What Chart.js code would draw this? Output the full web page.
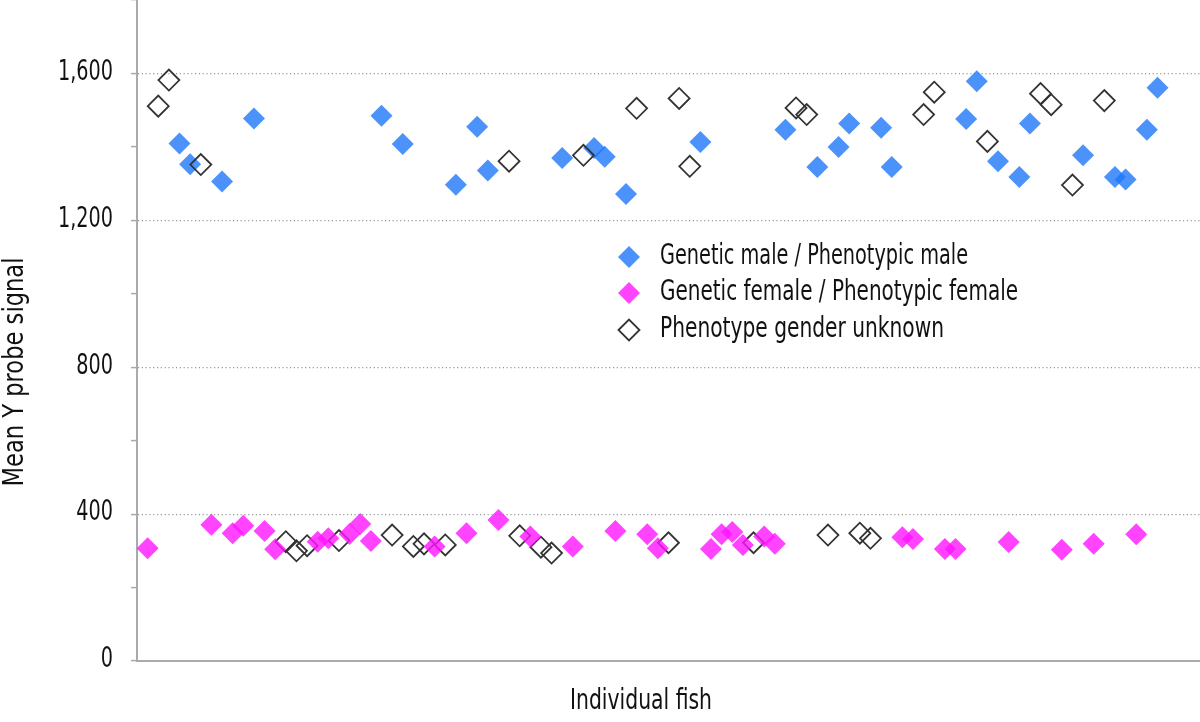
<!DOCTYPE html>
<html lang="en">
<head>
    <meta charset="UTF-8">
    <title>Mean Y probe signal</title>
    <script src="https://cdn.jsdelivr.net/npm/chart.js"></script>
    <style>
        html, body { margin: 0; padding: 0; background: #fff; }
    </style>
</head>
<body>
    <canvas id="myChart" width="1200" height="722"></canvas>
    <script>
        // fish number (x) and mean Y probe signal (y) for each group
        const maleFish = [4, 5, 8, 11, 23, 25, 30, 32, 33, 40, 43, 44, 46, 53, 61, 64, 66, 67, 70, 71, 78, 79, 81, 83, 84, 89, 92, 93, 95, 96];
        const maleSignal = [1409, 1353, 1306, 1477, 1485, 1408, 1297, 1455, 1336, 1370, 1397, 1373, 1272, 1413, 1447, 1345, 1400, 1464, 1452, 1345, 1476, 1579, 1361, 1318, 1464, 1377, 1318, 1311, 1447, 1561];

        const femaleFish = [1, 7, 9, 10, 12, 13, 17, 18, 20, 21, 22, 28, 31, 34, 37, 41, 45, 48, 49, 54, 55, 56, 57, 59, 60, 72, 73, 76, 77, 82, 87, 90, 94];
        const femaleSignal = [307, 371, 348, 368, 354, 304, 325, 334, 346, 373, 327, 312, 348, 384, 339, 312, 354, 345, 307, 305, 345, 351, 316, 339, 319, 337, 332, 305, 305, 324, 303, 319, 345];

        const unknownFish = [2, 3, 6, 14, 15, 16, 19, 24, 26, 27, 29, 35, 36, 38, 39, 42, 47, 50, 51, 52, 58, 62, 63, 65, 68, 69, 74, 75, 80, 85, 86, 88, 91];
        const unknownSignal = [1511, 1582, 1352, 325, 300, 314, 328, 343, 312, 319, 316, 1361, 341, 310, 294, 1377, 1505, 322, 1532, 1347, 322, 1506, 1488, 343, 348, 334, 1488, 1549, 1415, 1545, 1515, 1296, 1526];

        const yTickLabels = [0, 400, 800, 1200, 1600];
        const seriesLabels = ['Genetic male / Phenotypic male', 'Genetic female / Phenotypic female', 'Phenotype gender unknown'];
        const yTitle = 'Mean Y probe signal';
        const xTitle = 'Individual fish';

        // no condensed face is installed, so text is squeezed sideways by hand
        const FONT = '28px "Liberation Sans Narrow", "DejaVu Sans Condensed", sans-serif';
        const BLUE = 'rgba(30, 120, 250, 0.8)';
        const PINK = 'rgba(255, 20, 255, 0.8)';

        const toPoints = (xs, ys) => xs.map((x, i) => ({ x: x, y: ys[i] }));

        function diamond(c, x, y, r) {
            c.beginPath();
            c.moveTo(x - r, y);
            c.lineTo(x, y - r);
            c.lineTo(x + r, y);
            c.lineTo(x, y + r);
            c.closePath();
        }

        // draw text squeezed to a given width
        function squeezed(c, text, x, y, width, align, rot) {
            const w = c.measureText(text).width;
            c.save();
            c.translate(x, y);
            if (rot) c.rotate(rot);
            c.scale(width / w, 1);
            c.textAlign = align;
            c.fillText(text, 0, 0);
            c.restore();
        }

        const overlay = {
            id: 'overlay',
            afterDraw(chart) {
                const c = chart.ctx;
                c.save();
                c.fillStyle = '#111';
                c.font = FONT;
                c.textBaseline = 'middle';

                // y tick labels
                const yScale = chart.scales.y;
                const sx = 55 / c.measureText('1,600').width;
                yTickLabels.forEach(v => {
                    const label = v.toLocaleString('en-US');
                    squeezed(c, label, 113, yScale.getPixelForValue(v) - 1, c.measureText(label).width * sx, 'right');
                });

                // legend
                const rows = [257, 293, 330];
                const widths = [308, 358, 284];
                rows.forEach((y, i) => {
                    if (i < 2) {
                        c.fillStyle = i === 0 ? BLUE : PINK;
                        diamond(c, 629, y, 11);
                        c.fill();
                    } else {
                        c.strokeStyle = '#333';
                        c.lineWidth = 1.8;
                        diamond(c, 629, y, 10.5);
                        c.stroke();
                    }
                    c.fillStyle = '#111';
                    squeezed(c, seriesLabels[i], 660, y, widths[i], 'left');
                });

                // axis titles
                squeezed(c, xTitle, 641, 702, 142, 'center');
                squeezed(c, yTitle, 16, 372, 229, 'center', -Math.PI / 2);
                c.restore();
            }
        };

        const ctx = document.getElementById('myChart').getContext('2d');
        new Chart(ctx, {
            type: 'scatter',
            data: {
                datasets: [
                    {
                        label: seriesLabels[0],
                        data: toPoints(maleFish, maleSignal),
                        pointStyle: 'rectRot',
                        pointRadius: 11,
                        backgroundColor: BLUE,
                        borderWidth: 0,
                        order: 2
                    },
                    {
                        label: seriesLabels[1],
                        data: toPoints(femaleFish, femaleSignal),
                        pointStyle: 'rectRot',
                        pointRadius: 11,
                        backgroundColor: PINK,
                        borderWidth: 0,
                        order: 0
                    },
                    {
                        label: seriesLabels[2],
                        data: toPoints(unknownFish, unknownSignal),
                        pointStyle: 'rectRot',
                        pointRadius: 10.5,
                        backgroundColor: 'rgba(255,255,255,0)',
                        borderColor: '#333',
                        borderWidth: 1.8,
                        order: 1
                    }
                ]
            },
            options: {
                responsive: false,
                animation: false,
                layout: { padding: 0, autoPadding: false },
                plugins: {
                    legend: { display: false },
                    tooltip: { enabled: false }
                },
                scales: {
                    x: {
                        type: 'linear',
                        min: 0,
                        max: 100,
                        ticks: { display: false },
                        grid: { display: false, drawTicks: false },
                        border: { color: '#aaa', width: 2 },
                        afterFit: s => { s.height = 61; s.paddingLeft = 0; s.paddingRight = 0; }
                    },
                    y: {
                        min: 0,
                        max: 1800,
                        ticks: {
                            stepSize: 200,
                            padding: 0,
                            callback: () => ''
                        },
                        grid: {
                            color: c => (c.tick && c.tick.value % 400 === 0 && c.tick.value > 0 && c.tick.value < 1800) ? '#999' : 'rgba(0,0,0,0)',
                            lineWidth: 1.2,
                            tickLength: 6,
                            tickColor: '#aaa',
                            tickWidth: 1.5
                        },
                        border: { color: '#aaa', width: 2, dash: [1.2, 2.6] },
                        afterFit: s => { s.width = 137; s.paddingTop = 0; s.paddingBottom = 0; }
                    }
                }
            },
            plugins: [overlay]
        });
    </script>
</body>
</html>
